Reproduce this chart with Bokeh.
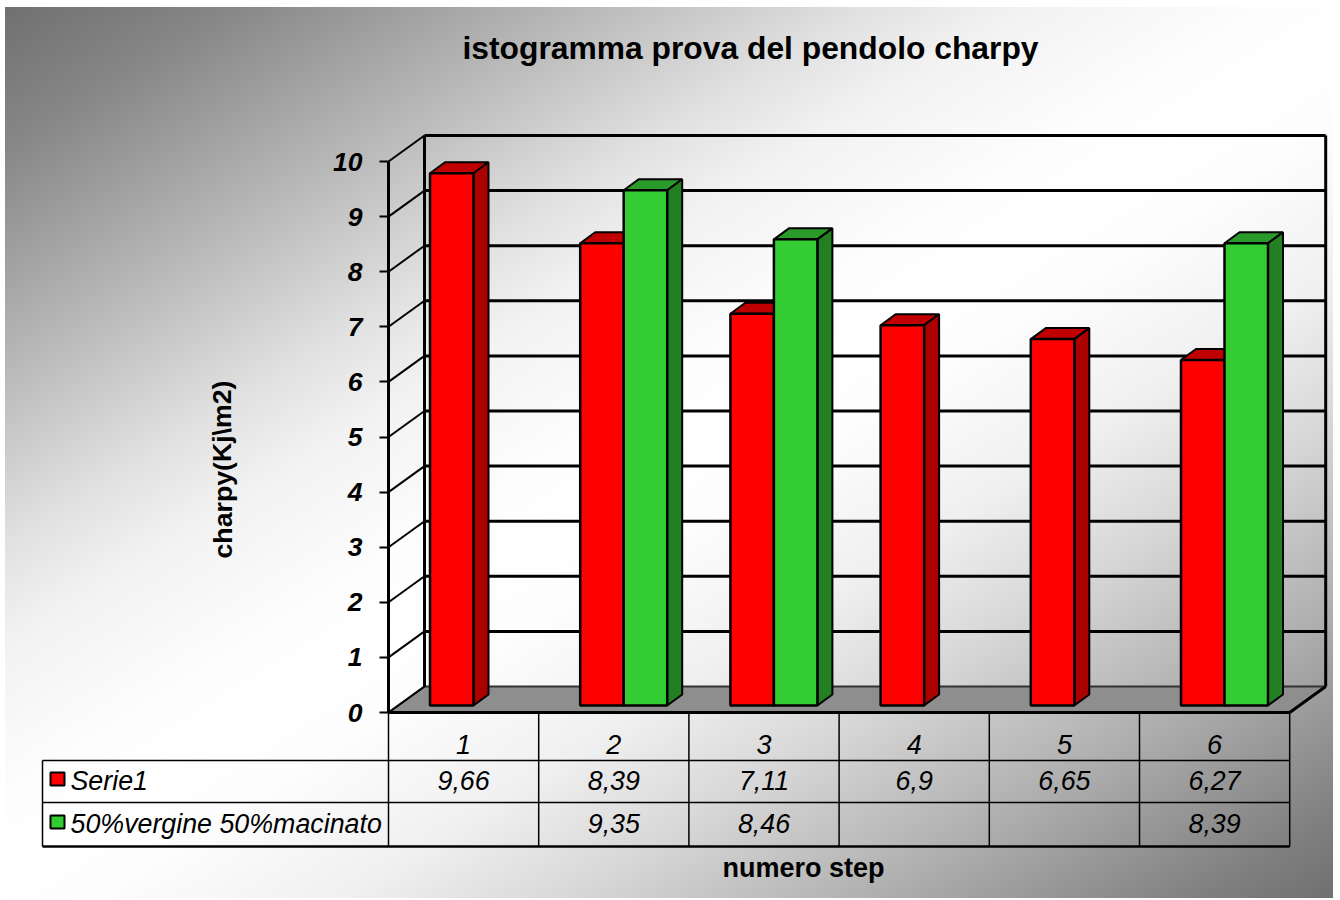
from bokeh.core.properties import value
from bokeh.embed import file_html
from bokeh.models import FixedTicker, InlineStyleSheet, LinearAxis, Range1d
from bokeh.plotting import figure
from bokeh.resources import INLINE

# Chart values
steps = ["1", "2", "3", "4", "5", "6"]
serie1 = [9.66, 8.39, 7.11, 6.9, 6.65, 6.27]
serie1_labels = ["9,66", "8,39", "7,11", "6,9", "6,65", "6,27"]
vergine = [None, 9.35, 8.46, None, None, 8.39]
vergine_labels = ["", "9,35", "8,46", "", "", "8,39"]
y_ticks = list(range(11))
series_names = ["Serie1", "50%vergine 50%macinato"]

# Pixel layout of the pseudo-3D chart
W, H = 1340, 900
X0, Y0 = 388, 712           # front-left corner of the floor
CAT_PX, VAL_PX = 150.2, 55.1
DEPTH_X, DEPTH_Y = 36, 26   # back wall offset
BAR_DX, BAR_DY = 10, 7      # front face of the bars, measured from the front edge
SIDE_DX, SIDE_DY = 15, 11   # extrusion of each bar
BAR_W = 43.5

FONT = value("Liberation Sans")


def dx(px):
    return px / CAT_PX


def dy(px):
    return px / VAL_PX


def fx(px):
    return (px - X0) / CAT_PX


def fy(px):
    return (Y0 - px) / VAL_PX


background = InlineStyleSheet(css="""
:host {
  background-color: #ffffff;
  background-image: linear-gradient(148deg,
    #707070 0%, #868686 8%, #b8b8b8 21%, #e0e0e0 31%, #f2f2f2 37%, #fdfdfd 46%,
    #ffffff 50%, #fdfdfd 55%, #f0f0f0 64%, #d8d8d8 72%, #b0b0b0 83%, #808080 95%, #707070 100%);
  background-size: 1328px 891px;
  background-position: 5px 7px;
  background-repeat: no-repeat;
}
""")

p = figure(
    width=W, height=H, min_border=0, output_backend="svg", toolbar_location=None,
    x_range=Range1d(fx(0), fx(W)), y_range=Range1d(fy(H), fy(0)),
    x_axis_location=None, y_axis_location=None,
    border_fill_color=None, background_fill_color=None, outline_line_color=None,
    stylesheets=[background],
)
p.grid.visible = False

n_cat = len(steps)
top_val = y_ticks[-1]
back_x, back_y = dx(DEPTH_X), dy(DEPTH_Y)

# Floor
p.patch([0, n_cat, n_cat + back_x, back_x], [0, 0, back_y, back_y],
        fill_color="#8e8e8e", line_color="#333333", line_width=2)

# Back wall outline, wall gridlines and the side-wall diagonals
p.multi_line(
    [[back_x, back_x], [n_cat + back_x, n_cat + back_x], [n_cat + back_x, n_cat]],
    [[back_y, top_val + back_y], [back_y, top_val + back_y], [back_y, 0]],
    line_color="#000000", line_width=3,
)
p.multi_line(
    [[back_x, n_cat + back_x] for v in y_ticks[1:]],
    [[v + back_y, v + back_y] for v in y_ticks[1:]],
    line_color="#000000", line_width=3,
)
p.multi_line(
    [[0, back_x] for v in y_ticks],
    [[v, v + back_y] for v in y_ticks],
    line_color="#000000", line_width=2,
)


def draw_bar(cat, val, left, front, top, side):
    """One extruded bar: top, side, then the front face."""
    xl = cat + dx(BAR_DX + 75) + dx(left)
    xr = xl + dx(BAR_W)
    yb = dy(BAR_DY)
    yt = yb + val
    ex, ey = dx(SIDE_DX), dy(SIDE_DY)
    p.patch([xl, xr, xr + ex, xl + ex], [yt, yt, yt + ey, yt + ey],
            fill_color=top, line_color="#000000", line_width=2)
    p.patch([xr, xr + ex, xr + ex, xr], [yb, yb + ey, yt + ey, yt],
            fill_color=side, line_color="#000000", line_width=2)
    p.quad(left=xl, right=xr, bottom=yb, top=yt,
           fill_color=front, line_color="#000000", line_width=2.5)


for i in range(n_cat):
    draw_bar(i, serie1[i], -BAR_W, "#ff0000", "#c00000", "#aa0000")
    if vergine[i] is not None:
        draw_bar(i, vergine[i], 0, "#33cc33", "#2a9b2a", "#228022")

# Value axis on the front-left edge
y_axis = LinearAxis(
    fixed_location=0, bounds=(0, top_val), ticker=FixedTicker(ticks=y_ticks),
    axis_line_color="#000000", axis_line_width=3,
    major_tick_line_color="#000000", major_tick_line_width=2,
    major_tick_in=0, major_tick_out=9, minor_tick_line_color=None,
    major_label_text_font="Liberation Sans", major_label_text_font_size="26.5px",
    major_label_text_font_style="bold italic", major_label_text_color="#000000",
    major_label_standoff=17,
)
p.add_layout(y_axis, "left")

# Category axis along the front edge of the floor
centers = [i + 0.5 for i in range(n_cat)]
x_axis = LinearAxis(
    fixed_location=0, bounds=(0, n_cat), ticker=FixedTicker(ticks=centers),
    major_label_overrides={c: s for c, s in zip(centers, steps)},
    axis_line_color="#000000", axis_line_width=3,
    major_tick_line_color=None, minor_tick_line_color=None,
    major_tick_in=0, major_tick_out=0,
    major_label_text_font="Liberation Sans", major_label_text_font_size="27px",
    major_label_text_font_style="italic", major_label_text_color="#000000",
    major_label_standoff=22,
)
p.add_layout(x_axis, "below")

# Data table beneath the chart
row_y = [fy(760), fy(802), fy(846)]
table_left = fx(42)
p.multi_line(
    [[table_left, n_cat], [table_left, n_cat]],
    [[row_y[0], row_y[0]], [row_y[1], row_y[1]]],
    line_color="#000000", line_width=1.5,
)
p.line([table_left, n_cat], [row_y[2], row_y[2]], line_color="#000000", line_width=2.5)
p.multi_line(
    [[i, i] for i in range(n_cat + 1)] + [[table_left, table_left]],
    [[0, row_y[2]] for i in range(n_cat + 1)] + [[row_y[0], row_y[2]]],
    line_color="#000000", line_width=1.5,
)

table_font = dict(text_font=FONT, text_font_style="italic", text_font_size=value("26.8px"),
                  text_color="#000000", text_baseline="middle")
p.text(centers, [fy(780)] * n_cat, text=serie1_labels, text_align="center", **table_font)
p.text(centers, [fy(823)] * n_cat, text=vergine_labels, text_align="center", **table_font)
p.text([fx(70), fx(70)], [fy(780), fy(823)], text=series_names, text_align="left", **table_font)

# Legend keys inside the table
p.quad(left=[fx(50)] * 2, right=[fx(64)] * 2, top=[fy(772), fy(815)], bottom=[fy(785), fy(828)],
       fill_color=["#ff0000", "#33cc33"], line_color="#000000", line_width=2)

# Titles
bold = dict(text_font=FONT, text_font_style="bold", text_color="#000000",
            text_align="center", text_baseline="middle")
p.text([fx(750)], [fy(47)], text=["istogramma prova del pendolo charpy"],
       text_font_size=value("31.8px"), **bold)
p.text([fx(222)], [fy(469)], text=["charpy(Kj\\m2)"], angle=1.5708,
       text_font_size=value("26.7px"), **bold)
p.text([fx(803)], [fy(867)], text=["numero step"],
       text_font_size=value("27px"), **bold)

open("out.html", "w").write(file_html(p, INLINE))
